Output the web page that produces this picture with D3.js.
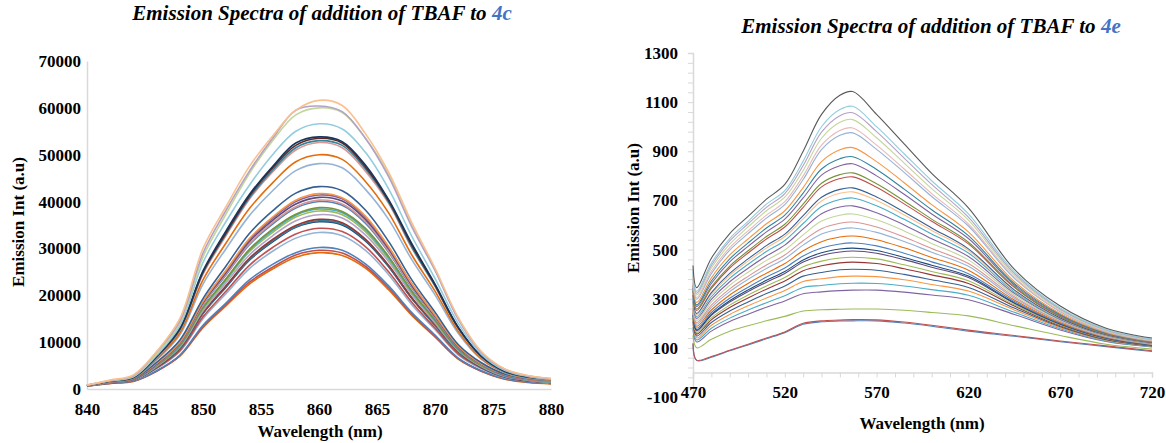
<!DOCTYPE html>
<html>
<head>
<meta charset="utf-8">
<script src="https://cdn.jsdelivr.net/npm/d3@7"></script>
<style>
body { margin: 0; background: #fff; }
</style>
</head>
<body>
<script>
// left panel: 4c
var wavelengthsLeft = [840,842,844,846,848,850,852,854,856,858,860,862,864,866,868,870,872,874,876,878,880];
var spectraLeft = [
  [850,1900,3000,8000,15000,30000,39000,47500,54000,59500,61600,60500,54500,46300,35500,25800,15300,8000,4300,2900,2300],
  [820,1800,2800,7900,14500,29000,38200,46500,53500,59500,60400,59200,53500,45300,34600,25300,14900,7800,4200,2800,2200],
  [800,1800,2700,7500,14000,28200,37400,46000,53000,58500,60000,59000,53500,45800,35000,25500,15100,7900,4300,2800,2200],
  [800,1750,2600,7200,13500,27000,35800,43500,50000,55000,56600,55500,50500,42700,32600,23600,14000,7400,4000,2700,2100],
  [780,1700,2500,7000,13000,25200,33800,41500,47500,52500,53800,52800,47800,40400,31000,22400,13200,7000,3800,2600,2100],
  [790,1700,2500,6900,12800,25000,33400,41200,47200,52000,53500,52500,47400,40200,30700,22200,13100,7000,3900,2600,2100],
  [770,1650,2400,6800,12600,24800,33100,40800,46700,51500,53000,52000,47000,39900,30300,22000,13000,6900,3700,2500,2000],
  [770,1650,2400,6700,12500,24500,32800,40500,46300,51000,52600,51500,46500,39600,30100,21900,12900,6800,3700,2500,2000],
  [760,1600,2300,6400,11900,23300,31200,38500,44000,48500,50000,49000,44300,37600,28600,20900,12300,6500,3600,2400,1900],
  [750,1600,2300,6200,11500,22400,30000,37000,42300,46600,48100,47200,42600,36200,27600,20100,11900,6300,3500,2300,1900],
  [740,1550,2200,5700,10400,19300,26300,33200,38000,41800,43200,42300,38200,31500,23300,16400,9500,5600,3200,2200,1800],
  [730,1500,2200,5500,10000,18700,25400,32100,36700,40300,41700,40800,36900,30400,22500,15800,9200,5400,3100,2100,1700],
  [730,1500,2100,5400,9900,18600,25200,31800,36400,40000,41400,40600,36600,30200,22400,15700,9100,5400,3100,2100,1700],
  [720,1500,2100,5300,9800,18400,24900,31500,36000,39500,40900,40100,36200,29900,22100,15500,9000,5300,3000,2100,1700],
  [720,1450,2100,5200,9700,18100,24600,31000,35500,38900,40300,39500,35700,29400,21800,15300,8900,5200,3000,2000,1600],
  [710,1450,2000,5200,9600,18000,24400,30800,35200,38600,40000,39200,35400,29200,21600,15200,8800,5200,2900,2000,1600],
  [700,1450,2000,5000,9300,17400,23600,29800,34100,37300,38700,37900,34300,28300,20900,14700,8500,5000,2900,2000,1600],
  [700,1400,2000,5000,9200,17300,23400,29600,33800,37100,38400,37600,34000,28000,20700,14600,8400,5000,2800,1900,1500],
  [700,1400,1950,4900,9100,17100,23200,29300,33400,36700,38000,37200,33600,27700,20500,14400,8400,4900,2800,1900,1500],
  [690,1400,1900,4800,8900,16700,22700,28600,32700,35900,37200,36500,32900,27200,20100,14100,8200,4800,2700,1900,1500],
  [690,1350,1900,4700,8700,16300,22100,27900,31900,34900,36200,35500,32000,26400,19500,13800,8000,4700,2700,1800,1400],
  [680,1350,1900,4700,8600,16200,21900,27600,31600,34600,35900,35200,31800,26200,19400,13600,7900,4700,2600,1800,1400],
  [680,1350,1850,4600,8600,16100,21800,27500,31400,34500,35700,35000,31600,26100,19300,13600,7900,4600,2600,1800,1400],
  [670,1300,1800,4500,8200,15400,20900,26400,30200,33100,34300,33600,30400,25000,18500,13000,7500,4500,2500,1700,1400],
  [660,1300,1800,4300,8000,15000,20400,25700,29400,32200,33400,32700,29600,24400,18000,12700,7300,4300,2400,1700,1300],
  [650,1250,1700,3900,7200,13600,18400,23300,26600,29100,30200,29600,26700,22000,16300,11500,6600,3900,2200,1500,1200],
  [640,1200,1700,3800,7100,13300,18100,22800,26000,28600,29600,29000,26200,21600,16000,11200,6500,3800,2200,1500,1200],
  [630,1200,1600,3800,7000,13100,17800,22400,25600,28100,29100,28500,25800,21200,15700,11100,6400,3800,2100,1400,1100]
];
var colorsLeft = ["#FAC090","#B3A2C7","#C3D69B","#93CDDD","#17375E","#632523","#31859C","#D99694","#E46C0A","#95B3D7",
  "#376092","#F79646","#8064A2","#604A7B","#D99694","#4F81BD","#77933C","#4BACC6","#9BBB59","#B3A2C7",
  "#953735","#31859C","#1F497D","#C0504D","#95B3D7","#4F81BD","#C0504D","#E46C0A"];
var ticksLeftX = [840,845,850,855,860,865,870,875,880];
var ticksLeftY = [0,10000,20000,30000,40000,50000,60000,70000];

// right panel: 4e
var wavelengthsRight = [470,472,480,490,500,510,520,530,540,550,557,570,585,600,620,645,670,695,720];
var spectraRight = [
  [435,345,465,565,635,705,765,900,1050,1128,1143,1050,930,810,670,420,270,180,140],
  [420,330,445,545,615,685,740,860,1000,1070,1083,1000,890,780,645,410,262,175,136],
  [410,322,435,535,605,672,728,842,978,1045,1057,980,872,765,632,403,258,173,134],
  [400,315,425,522,592,658,713,822,953,1018,1029,955,852,748,620,396,255,171,132],
  [390,305,412,508,576,640,695,800,925,985,995,925,828,728,605,388,250,168,130],
  [380,298,402,498,565,628,683,785,907,965,975,908,814,716,596,383,247,166,129],
  [365,285,385,478,543,605,658,752,858,906,915,858,772,683,572,370,240,163,127],
  [355,275,372,462,527,588,640,730,828,870,878,826,746,662,557,362,236,161,126],
  [345,268,362,450,513,572,624,710,803,841,849,800,725,645,545,356,233,159,125],
  [335,258,348,433,495,553,603,685,770,805,812,768,698,624,530,349,229,157,124],
  [330,252,342,425,486,543,592,672,755,789,796,754,686,615,523,346,227,156,123],
  [315,240,325,403,462,516,563,638,713,745,751,714,653,588,503,336,222,153,121],
  [310,235,318,395,453,506,553,625,698,729,735,700,641,578,496,333,220,152,120],
  [302,228,308,383,440,492,537,606,675,704,710,678,623,563,486,328,218,151,119],
  [292,220,297,369,424,474,518,584,646,673,678,650,600,544,472,322,215,150,118],
  [282,212,286,355,408,456,498,560,616,640,645,621,576,525,458,315,212,148,117],
  [272,203,274,340,391,437,478,536,585,607,612,592,551,504,443,308,209,146,116],
  [264,196,265,329,379,423,463,518,563,583,588,570,533,489,432,302,207,145,115],
  [254,188,254,315,362,404,443,495,532,551,555,540,507,468,416,295,203,143,114],
  [244,180,244,302,347,388,425,474,506,523,527,515,485,450,402,289,200,141,113],
  [236,173,236,292,336,375,411,458,487,502,506,496,468,436,392,284,198,140,112],
  [232,170,232,286,329,367,403,449,476,490,494,485,459,428,386,281,196,139,111],
  [224,163,222,274,315,352,386,430,453,466,469,462,438,411,373,275,193,137,110],
  [216,156,214,264,303,339,372,414,434,446,449,443,422,397,362,270,190,135,109],
  [206,148,203,250,287,321,352,392,407,418,420,416,399,377,346,262,186,133,108],
  [196,140,192,236,271,303,333,370,381,390,392,390,377,358,331,254,182,131,107],
  [185,132,180,221,254,284,312,346,354,361,363,362,352,337,314,245,178,128,105],
  [175,124,168,207,237,265,291,320,328,333,335,335,327,315,296,236,173,126,104],
  [150,100,135,168,190,210,228,250,255,257,258,258,253,244,230,190,150,115,95],
  [120,50,65,90,115,140,165,200,210,213,215,214,205,192,172,150,128,108,88],
  [115,48,62,88,112,137,162,196,206,209,210,210,201,188,168,147,125,105,85]
];
var colorsRight = ["#595959","#93CDDD","#B3A2C7","#C3D69B","#E6B9B8","#95B3D7","#F79646","#31859C","#8064A2","#77933C",
  "#C0504D","#376092","#FAC090","#4BACC6","#8064A2","#C3D69B","#D99694","#95B3D7","#E46C0A","#4F81BD",
  "#1F497D","#604A7B","#9BBB59","#953735","#366092","#F79646","#4BACC6","#8064A2","#9BBB59","#C0504D","#4F81BD"];
var ticksRightX = d3.range(470, 721, 10);
var ticksRightY = d3.range(-100, 1301, 40);

var FONT = "Liberation Serif";
var svg = d3.select("body").append("svg").attr("width", 1166).attr("height", 443);

function title(x, y, sample) {
  var t = svg.append("text").attr("x", x).attr("y", y).attr("text-anchor", "middle")
    .attr("font-family", FONT).attr("font-weight", "bold").attr("font-style", "italic").attr("font-size", 21);
  t.append("tspan").text("Emission Spectra of addition of TBAF to ");
  t.append("tspan").attr("fill", "#4472C4").text(sample);
}

function axisLabel(x, y, txt, rotate) {
  svg.append("text").attr("transform", "translate(" + x + "," + y + ")" + (rotate ? " rotate(-90)" : ""))
    .attr("text-anchor", "middle").attr("font-family", FONT).attr("font-weight", "bold")
    .attr("font-size", 17).text(txt);
}

function styleAxis(g) {
  g.attr("font-family", FONT).attr("font-size", 17).attr("font-weight", "bold");
  g.select(".domain").attr("stroke", "#D9D9D9").attr("stroke-width", 1.5);
  g.selectAll(".tick line").attr("stroke", "#D9D9D9");
  g.selectAll(".tick text").attr("fill", "#000");
}

// ---- left chart
var xL = d3.scaleLinear().domain([840, 880]).range([87, 551]);
var yL = d3.scaleLinear().domain([0, 70000]).range([389, 61]);

svg.append("g").attr("transform", "translate(87,0)")
  .call(d3.axisLeft(yL).tickValues(ticksLeftY).tickSize(0).tickPadding(6).tickFormat(d3.format("d")))
  .call(styleAxis);
svg.append("g").attr("transform", "translate(0,389)")
  .call(d3.axisBottom(xL).tickValues(ticksLeftX).tickSize(0).tickPadding(14))
  .call(styleAxis);

var lineL = d3.line().curve(d3.curveCatmullRom.alpha(0.5))
  .x(function (d, i) { return xL(wavelengthsLeft[i]); })
  .y(function (d) { return yL(d); });

svg.append("g").selectAll("path").data(spectraLeft.slice().reverse()).enter().append("path")
  .attr("d", lineL).attr("fill", "none").attr("stroke-width", 1.6)
  .attr("stroke", function (d, i) { return colorsLeft[spectraLeft.length - 1 - i]; });

title(322, 20, "4c");
axisLabel(24, 222, "Emission Int (a.u)", true);
axisLabel(320, 437, "Wavelength (nm)", false);

// ---- right chart
var xR = d3.scaleLinear().domain([470, 720]).range([693, 1152]);
var yR = d3.scaleLinear().domain([-100, 1300]).range([397, 53]);

svg.append("g").attr("transform", "translate(693,0)")
  .call(d3.axisLeft(yR).tickValues(ticksRightY).tickSize(5).tickPadding(10)
    .tickFormat(function (d) { return (d + 100) % 200 === 0 ? d : ""; }))
  .call(styleAxis);
svg.append("g").attr("transform", "translate(0," + yR(0) + ")")
  .call(d3.axisBottom(xR).tickValues(ticksRightX).tickSize(5).tickPadding(9)
    .tickFormat(function (d) { return (d - 470) % 50 === 0 ? d : ""; }))
  .call(styleAxis);

var lineR = d3.line().curve(d3.curveCatmullRom.alpha(0.5))
  .x(function (d, i) { return xR(wavelengthsRight[i]); })
  .y(function (d) { return yR(d); });

svg.append("g").selectAll("path").data(spectraRight.slice().reverse()).enter().append("path")
  .attr("d", lineR).attr("fill", "none").attr("stroke-width", 1.1)
  .attr("stroke", function (d, i) { return colorsRight[spectraRight.length - 1 - i]; });

title(931, 33, "4e");
axisLabel(639, 208, "Emission Int (a.u)", true);
axisLabel(922, 429, "Wavelength (nm)", false);
</script>
</body>
</html>
